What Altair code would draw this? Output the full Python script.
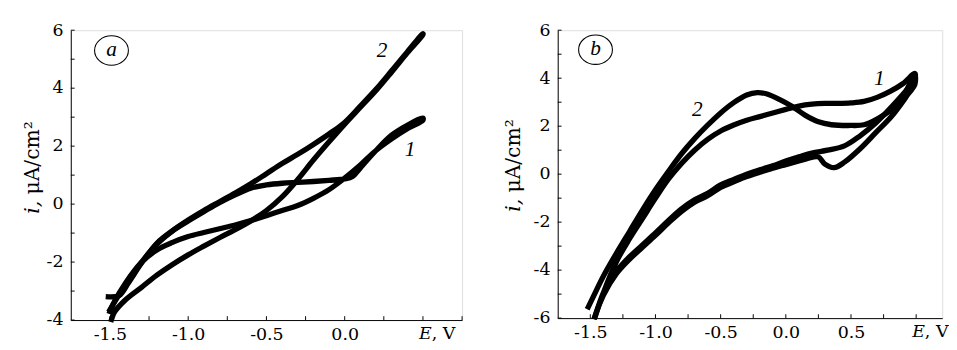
import altair as alt
import pandas as pd

FONT = "DejaVu Serif"
LFONT = "Liberation Serif"

# ---------------- Panel a data ----------------
A1_FWD_E = [-1.51, -1.44, -1.38, -1.30, -1.20, -1.10, -1.00, -0.90, -0.80, -0.70, -0.60, -0.50, -0.40, -0.30, -0.20, -0.10, 0.00, 0.05, 0.10, 0.20, 0.30, 0.40, 0.50]
A1_FWD_I = [-3.20, -3.15, -2.70, -2.05, -1.35, -0.92, -0.58, -0.26, 0.05, 0.32, 0.55, 0.66, 0.72, 0.75, 0.78, 0.82, 0.87, 0.95, 1.25, 1.85, 2.38, 2.72, 2.97]
A1_REV_E = [0.50, 0.40, 0.30, 0.20, 0.10, 0.00, -0.10, -0.20, -0.30, -0.40, -0.50, -0.60, -0.70, -0.80, -0.90, -1.00, -1.10, -1.20, -1.30, -1.40, -1.48, -1.50]
A1_REV_I = [2.90, 2.60, 2.25, 1.85, 1.35, 0.90, 0.50, 0.20, -0.05, -0.22, -0.40, -0.57, -0.72, -0.85, -0.98, -1.12, -1.32, -1.58, -2.02, -2.72, -3.45, -3.70]

A2_FWD_E = [-1.50, -1.45, -1.40, -1.30, -1.20, -1.10, -1.00, -0.90, -0.80, -0.70, -0.60, -0.50, -0.40, -0.30, -0.20, -0.10, 0.00, 0.10, 0.20, 0.30, 0.40, 0.50]
A2_FWD_I = [-3.65, -3.20, -2.80, -2.02, -1.38, -0.92, -0.55, -0.22, 0.08, 0.38, 0.70, 1.05, 1.40, 1.72, 2.06, 2.42, 2.82, 3.38, 3.96, 4.60, 5.25, 5.88]
A2_REV_E = [0.50, 0.40, 0.30, 0.20, 0.10, 0.00, -0.10, -0.20, -0.30, -0.40, -0.50, -0.60, -0.70, -0.80, -0.90, -1.00, -1.10, -1.20, -1.30, -1.40, -1.47, -1.49]
A2_REV_I = [5.85, 5.22, 4.56, 3.92, 3.34, 2.76, 2.15, 1.52, 0.85, 0.25, -0.22, -0.58, -0.88, -1.16, -1.45, -1.75, -2.08, -2.45, -2.88, -3.30, -3.72, -3.98]

# ---------------- Panel b data ----------------
B1_FWD_E = [-1.46, -1.40, -1.30, -1.20, -1.10, -1.00, -0.90, -0.80, -0.70, -0.60, -0.50, -0.40, -0.30, -0.20, -0.10, 0.00, 0.10, 0.20, 0.30, 0.40, 0.50, 0.60, 0.70, 0.80, 0.90, 0.99]
B1_FWD_I = [-5.90, -4.95, -3.65, -2.70, -1.85, -1.00, -0.20, 0.45, 1.00, 1.45, 1.80, 2.05, 2.25, 2.40, 2.55, 2.70, 2.84, 2.92, 2.95, 2.95, 2.97, 3.03, 3.20, 3.45, 3.78, 4.20]
B1_REV_E = [0.99, 0.94, 0.81, 0.69, 0.57, 0.45, 0.32, 0.20, 0.10, 0.00, -0.10, -0.20, -0.30, -0.40, -0.50, -0.60, -0.70, -0.80, -0.90, -1.00, -1.10, -1.20, -1.30, -1.35, -1.40, -1.465]
B1_REV_I = [4.00, 3.60, 2.80, 2.13, 1.60, 1.18, 1.00, 0.88, 0.72, 0.55, 0.35, 0.18, 0.00, -0.22, -0.45, -0.80, -1.07, -1.45, -1.93, -2.45, -2.95, -3.45, -4.05, -4.45, -4.95, -5.94]

B2_FWD_E = [-1.515, -1.45, -1.40, -1.30, -1.20, -1.10, -1.00, -0.90, -0.80, -0.70, -0.60, -0.50, -0.40, -0.30, -0.22, -0.15, -0.05, 0.05, 0.15, 0.25, 0.35, 0.50, 0.60, 0.70, 0.80, 0.90, 0.99]
B2_FWD_I = [-5.53, -4.80, -4.25, -3.30, -2.40, -1.50, -0.65, 0.12, 0.85, 1.48, 2.04, 2.55, 2.98, 3.30, 3.40, 3.35, 3.12, 2.82, 2.45, 2.18, 2.06, 2.03, 2.06, 2.30, 2.65, 3.25, 4.15]
B2_REV_E = [0.99, 0.94, 0.81, 0.69, 0.57, 0.45, 0.37, 0.30, 0.25, 0.20, 0.10, 0.00, -0.10, -0.20, -0.30, -0.40, -0.50, -0.60, -0.70, -0.80, -0.90, -1.00, -1.10, -1.20, -1.30, -1.40, -1.465]
B2_REV_I = [3.74, 3.35, 2.40, 1.73, 1.06, 0.50, 0.27, 0.42, 0.72, 0.70, 0.55, 0.40, 0.25, 0.08, -0.10, -0.32, -0.55, -0.90, -1.17, -1.55, -2.03, -2.55, -3.05, -3.55, -4.15, -5.05, -5.94]

# ---------------- axes / annotations ----------------
A_XDOM = [-1.75, 0.75]
A_YDOM = [-4, 6]
A_XLABELS = [-1.5, -1.0, -0.5, 0.0]
A_XTICKS = [-1.5, -1.25, -1.0, -0.75, -0.5, -0.25, 0.0, 0.25, 0.5, 0.75]
A_YLABELS = [-4, -2, 0, 2, 4, 6]
A_YTICKS = [-4, -3, -2, -1, 0, 1, 2, 3, 4, 5, 6]
A_EV_AT = 0.5
A_LETTER = ["a"]
A_LETTER_POS = [-1.49, 5.3]
A_CURVE_LABELS = ["2", "1"]
A_CURVE_LABEL_E = [0.238, 0.417]
A_CURVE_LABEL_I = [5.3, 1.9]

B_XDOM = [-1.75, 1.2]
B_YDOM = [-6, 6]
B_XLABELS = [-1.5, -1.0, -0.5, 0.0, 0.5]
B_XTICKS = [-1.5, -1.25, -1.0, -0.75, -0.5, -0.25, 0.0, 0.25, 0.5, 0.75, 1.0]
B_YLABELS = [-6, -4, -2, 0, 2, 4, 6]
B_YTICKS = [-6, -5, -4, -3, -2, -1, 0, 1, 2, 3, 4, 5, 6]
B_EV_AT = 1.0
B_LETTER = ["b"]
B_LETTER_POS = [-1.46, 5.19]
B_CURVE_LABELS = ["1", "2"]
B_CURVE_LABEL_E = [0.717, -0.68]
B_CURVE_LABEL_I = [3.98, 2.69]

Y_TITLE_ITALIC = "i,"
Y_TITLE_REST = "μA/cm²"
ELLIPSE = "M -1 0 A 1 0.87 0 1 0 1 0 A 1 0.87 0 1 0 -1 0 Z"


def loop_df(name, ef, i_f, er, ir):
    e = list(ef) + list(er)
    i = list(i_f) + list(ir)
    return pd.DataFrame({"curve": name, "E": e, "I": i, "k": list(range(len(e)))})


def panel(curves, xdom, ydom, W, H, xlabels, xticks, ylabels, yticks,
          ev_at, letter, letter_pos, clabels, cl_e, cl_i, title_x, title_bottom):
    xscale = alt.Scale(domain=xdom, nice=False, zero=False)
    yscale = alt.Scale(domain=ydom, nice=False, zero=False)
    xaxis = alt.Axis(values=xlabels, title=None, grid=False, ticks=False, tickSize=0,
                     labelExpr="datum.value < 0 ? '-' + format(-datum.value, '.1f') : format(datum.value, '.1f')",
                     labelFont=FONT, labelFontSize=18, labelColor="black", labelPadding=6,
                     labelFlush=False, labelOverlap=False, domainColor="black", domainWidth=1)
    yaxis = alt.Axis(values=ylabels, title=None, grid=False, ticks=False, tickSize=0,
                     labelExpr="datum.value < 0 ? '-' + format(-datum.value, 'd') : format(datum.value, 'd')",
                     labelFont=FONT, labelFontSize=18, labelColor="black", labelPadding=8,
                     labelFlush=False, labelOverlap=False, domainColor="black", domainWidth=1)

    def X(f):
        return alt.X(f, type="quantitative", scale=xscale, axis=xaxis)

    def Y(f):
        return alt.Y(f, type="quantitative", scale=yscale, axis=yaxis)

    df = pd.concat(curves, ignore_index=True)
    lines = alt.Chart(df).mark_line(color="black", strokeWidth=5.5, strokeJoin="round",
                                    strokeCap="square", interpolate="catmull-rom").encode(
        x=X("E"), y=Y("I"), detail="curve:N", order="k:Q")

    xt = alt.Chart(pd.DataFrame({"t": xticks})).mark_rule(color="black", strokeWidth=1).encode(
        x=X("t"), y=alt.value(H), y2=alt.value(H - 4))
    yt = alt.Chart(pd.DataFrame({"t": yticks})).mark_rule(color="black", strokeWidth=1).encode(
        y=Y("t"), x=alt.value(0), x2=alt.value(4))

    ldf = pd.DataFrame({"E": [letter_pos[0]], "I": [letter_pos[1]], "txt": letter})
    circ = alt.Chart(ldf).mark_point(shape=ELLIPSE, size=1225, filled=False, color="black",
                                     strokeWidth=1.1, opacity=1).encode(x=X("E"), y=Y("I"))
    let = alt.Chart(ldf).mark_text(font=LFONT, fontSize=22, fontStyle="italic", color="black",
                                   baseline="middle", align="center", dy=-1).encode(
        x=X("E"), y=Y("I"), text="txt:N")

    cdf = pd.DataFrame({"E": cl_e, "I": cl_i, "txt": clabels})
    clab = alt.Chart(cdf).mark_text(font=LFONT, fontSize=22, fontStyle="italic", color="black",
                                    baseline="middle", align="center").encode(
        x=X("E"), y=Y("I"), text="txt:N")

    edf = pd.DataFrame({"E": [ev_at], "a": ["E"], "b": [", V"]})
    ev1 = alt.Chart(edf).mark_text(font=FONT, fontSize=18, fontStyle="italic", color="black",
                                   baseline="top", align="left", dx=-4).encode(
        x=X("E"), y=alt.value(H + 6), text="a:N")
    ev2 = alt.Chart(edf).mark_text(font=FONT, fontSize=18, color="black",
                                   baseline="top", align="left", dx=9).encode(
        x=X("E"), y=alt.value(H + 6), text="b:N")

    tdf = pd.DataFrame({"a": [Y_TITLE_ITALIC], "b": [Y_TITLE_REST]})
    t1 = alt.Chart(tdf).mark_text(font=FONT, fontSize=21, fontStyle="italic", color="black",
                                  baseline="middle", align="left", angle=270).encode(
        x=alt.value(title_x), y=alt.value(title_bottom), text="a:N")
    t2 = alt.Chart(tdf).mark_text(font=FONT, fontSize=21, color="black",
                                  baseline="middle", align="left", angle=270).encode(
        x=alt.value(title_x), y=alt.value(title_bottom - 20), text="b:N")

    return alt.layer(lines, xt, yt, circ, let, clab, ev1, ev2, t1, t2).properties(width=W, height=H)


pa = panel([loop_df("1", A1_FWD_E, A1_FWD_I, A1_REV_E, A1_REV_I),
            loop_df("2", A2_FWD_E, A2_FWD_I, A2_REV_E, A2_REV_I)],
           A_XDOM, A_YDOM, 405, 300, A_XLABELS, A_XTICKS, A_YLABELS, A_YTICKS,
           A_EV_AT, A_LETTER, A_LETTER_POS, A_CURVE_LABELS, A_CURVE_LABEL_E, A_CURVE_LABEL_I,
           -39, 190)

pb = panel([loop_df("1", B1_FWD_E, B1_FWD_I, B1_REV_E, B1_REV_I),
            loop_df("2", B2_FWD_E, B2_FWD_I, B2_REV_E, B2_REV_I)],
           B_XDOM, B_YDOM, 398, 298, B_XLABELS, B_XTICKS, B_YLABELS, B_YTICKS,
           B_EV_AT, B_LETTER, B_LETTER_POS, B_CURVE_LABELS, B_CURVE_LABEL_E, B_CURVE_LABEL_I,
           -45, 188)

chart = alt.hconcat(pa, pb, spacing=41).resolve_scale(x="independent", y="independent").properties(
    padding={"left": 14, "top": 7, "right": 0, "bottom": 0}
).configure_view(stroke=None).configure(background="white")

chart.save("out.html", embed_options={"renderer": "svg", "actions": False})
